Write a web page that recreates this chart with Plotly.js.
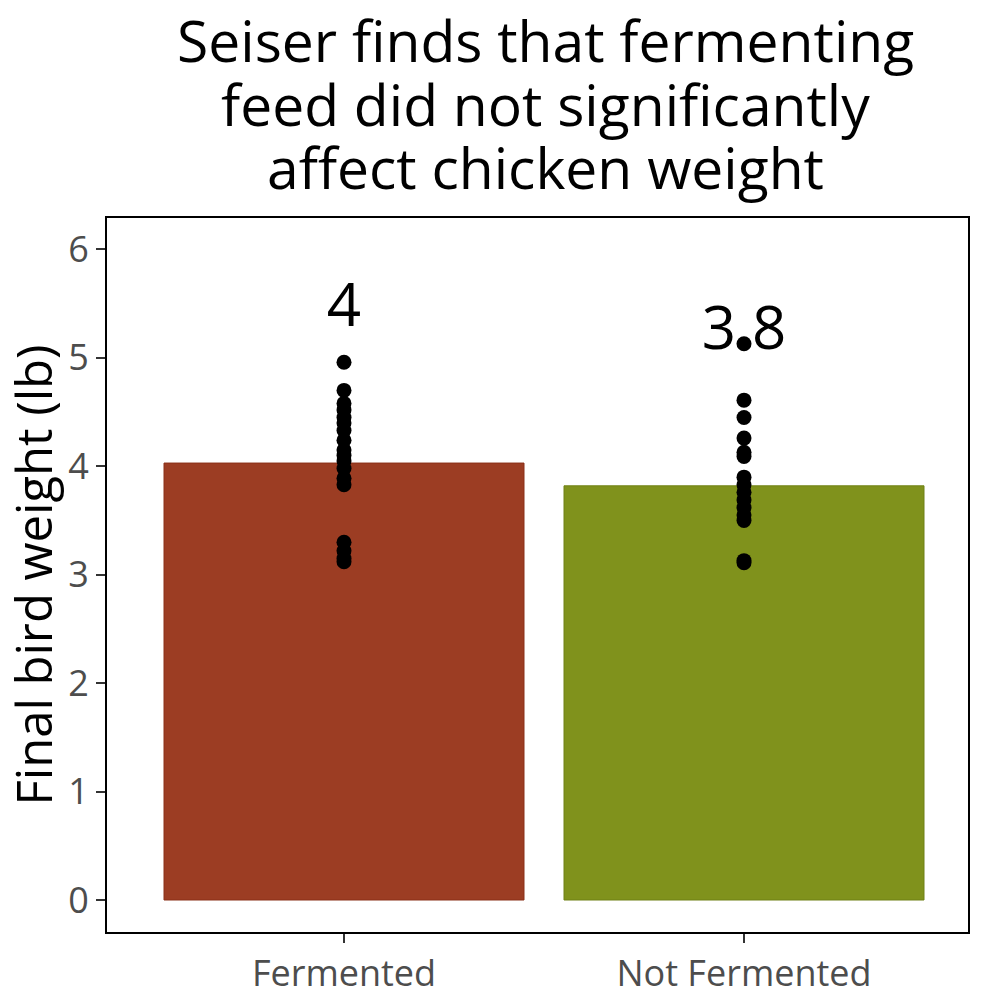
<!DOCTYPE html>
<html>
<head>
<meta charset="utf-8">
<script src="https://cdn.plot.ly/plotly-3.0.1.min.js"></script>
<style>
  html, body { margin: 0; padding: 0; background: #fff; }
  #chart { width: 1000px; height: 1000px; }
</style>
</head>
<body>
<div id="chart"></div>
<script>
// groups and their mean weights (bar heights)
const groups = ["Fermented", "Not Fermented"];
const meanWeight = [4.03, 3.82];
const meanLabel = ["4", "3.8"];
const barColors = ["#9C3D23", "#80921C"];

// individual birds
const fermentedBirds = [4.96, 4.70, 4.58, 4.52, 4.45, 4.40, 4.33, 4.24, 4.15, 4.10, 4.05, 3.98, 3.89, 3.83, 3.30, 3.22, 3.15, 3.12];
const notFermentedBirds = [5.13, 4.61, 4.45, 4.26, 4.13, 4.09, 3.90, 3.83, 3.76, 3.69, 3.62, 3.55, 3.50, 3.13, 3.11];

const yTicks = [0, 1, 2, 3, 4, 5, 6];
const titleLines = ["Seiser finds that fermenting", "feed did not significantly", "affect chicken weight"];

const FONT = "Open Sans, sans-serif";

const bars = {
  type: "bar",
  x: groups,
  y: meanWeight,
  width: 0.9,
  marker: { color: barColors, line: { color: ["#8a3018", "#6f8014"], width: 1 } },
  hoverinfo: "skip",
};

const points = {
  type: "scatter",
  mode: "markers",
  x: fermentedBirds.map(() => groups[0]).concat(notFermentedBirds.map(() => groups[1])),
  y: fermentedBirds.concat(notFermentedBirds),
  marker: { color: "#000", size: 15 },
};

const labels = {
  type: "scatter",
  mode: "text",
  x: groups,
  y: meanWeight.map((m) => m + 1.4),
  text: meanLabel,
  textfont: { family: FONT, size: 60, color: "#000" },
  textposition: "middle center",
};

// title as three lines so the line spacing can follow the reference
const titleY = [1.249, 1.159, 1.071];
const titleAnnotations = titleLines.map((line, i) => ({
  text: line,
  xref: "paper",
  yref: "paper",
  x: 0.509,
  y: titleY[i],
  xanchor: "center",
  yanchor: "middle",
  showarrow: false,
  font: { family: FONT, size: 57, color: "#000" },
}));

const layout = {
  width: 1000,
  height: 1000,
  showlegend: false,
  paper_bgcolor: "#fff",
  plot_bgcolor: "#fff",
  margin: { l: 107, r: 32, t: 218, b: 68 },
  annotations: titleAnnotations,
  xaxis: {
    range: [-0.5925, 1.56],
    showgrid: false,
    zeroline: false,
    showline: true,
    mirror: true,
    linecolor: "#000",
    linewidth: 2,
    ticks: "outside",
    ticklen: 9,
    tickwidth: 2,
    tickcolor: "#333",
    tickfont: { family: FONT, size: 36, color: "#4d4d4d" },
  },
  yaxis: {
    range: [-0.295, 6.29],
    tickvals: yTicks,
    showgrid: false,
    zeroline: false,
    showline: true,
    mirror: true,
    linecolor: "#000",
    linewidth: 2,
    ticks: "outside",
    ticklen: 9,
    tickwidth: 2,
    tickcolor: "#333",
    tickfont: { family: FONT, size: 36, color: "#4d4d4d" },
    title: {
      text: "Final bird weight (lb)",
      font: { family: FONT, size: 49, color: "#000" },
      standoff: 6,
    },
  },
};

Plotly.newPlot("chart", [bars, points, labels], layout, { displayModeBar: false, staticPlot: true });
</script>
</body>
</html>
